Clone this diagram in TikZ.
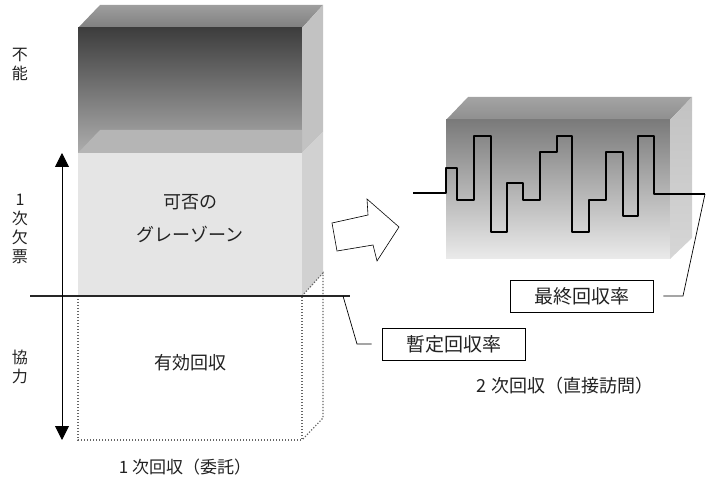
\documentclass[tikz,border=0pt]{standalone}
\usepackage{fontspec}
\newfontfamily\jp{Noto Sans CJK JP}
\usetikzlibrary{arrows.meta}
\definecolor{txt}{HTML}{222222}
\tikzset{
  lbl/.style={font=\jp\fontsize{18}{21}\selectfont, text=txt, inner sep=0pt},
  vlbl/.style={font=\jp\fontsize{16}{19}\selectfont, text=txt, align=center, inner sep=0pt},
  captext/.style={font=\jp\fontsize{17}{20}\selectfont, text=txt, inner sep=0pt},
  ratebox/.style={draw=black, line width=0.7pt, fill=white, minimum width=143pt, minimum height=32pt, font=\jp\fontsize{19}{22}\selectfont, text=txt},
  leader/.style={draw=black, line width=0.7pt},
  dotbox/.style={draw=black!60, line width=1.2pt, dash pattern=on 1.2pt off 1.8pt},
}
\begin{document}
\begin{tikzpicture}[x=1pt,y=-1pt]
\useasboundingbox (0,0) rectangle (707,478);
% ---------- left stacked block ----------
\shade[top color=black!38, bottom color=black!50] (78,28) -- (100,5) -- (323,5) -- (302,28) -- cycle;
\shade[top color=black!76, bottom color=black!32] (78,28) rectangle (302,153);
\fill[black!24] (302,28) -- (323,5) -- (323,132) -- (302,153) -- cycle;
\fill[black!29] (78,153) -- (100,130) -- (302,130) -- (302,153) -- cycle;
\fill[black!10] (78,153) rectangle (302,296);
\fill[black!18] (302,153) -- (323,132) -- (323,273) -- (302,296) -- cycle;
% dotted effective box
\draw[dotbox] (78,296) rectangle (302,440);
\draw[dotbox] (302,296) -- (323,273) -- (323,418) -- (302,440);
% horizontal threshold line
\coordinate (hl) at (30,296);
\coordinate (hr) at (350,296);
\draw[line width=1.8pt, black!85] (hl) -- (hr);
% vertical double arrow
\coordinate (atop) at (62,153);
\coordinate (abot) at (62,440);
\draw[line width=0.9pt, {Triangle[width=14pt,length=14pt]}-{Triangle[width=14pt,length=14pt]}] (atop) -- (abot);
% left labels
\node[vlbl] (funo) at (20,64) {不\\能};
\node[vlbl] (ketsu) at (20,229) {1\\次\\欠\\票};
\node[vlbl] (kyo) at (20,367) {協\\力};
% block texts
\node[lbl] (kahi) at (190,202) {可否の};
\node[lbl] (gray) at (190,234) {グレーゾーン};
\node[lbl] (yuko) at (190,363) {有効回収};
\node[captext] (cap1) at (185,467) {1 次回収（委託）};
% ---------- hollow arrow ----------
\draw[fill=white, line width=0.6pt, line join=miter] (332,223) -- (368,215) -- (367,199) -- (399,227) -- (377,261) -- (373,245) -- (337,251) -- cycle;
% ---------- right block ----------
\shade[top color=black!36, bottom color=black!44] (446,120) -- (468,97) -- (692,97) -- (670,120) -- cycle;
\shade[top color=black!52, bottom color=black!8] (446,120) rectangle (670,259);
\shade[top color=black!24, bottom color=black!16] (670,120) -- (692,97) -- (692,238) -- (670,259) -- cycle;
% waveform
\coordinate (wstart) at (413,193);
\coordinate (wend) at (705,194);
\draw[line width=2.6pt, line join=round, black] (wstart) -- (446,193) -- (446,168) -- (457,168) -- (457,200) -- (474,200) -- (474,136) -- (491,136) -- (491,232) -- (507,232) -- (507,183) -- (523,183) -- (523,200) -- (540,200) -- (540,152) -- (557,152) -- (557,136) -- (572,136) -- (572,232) -- (589,232) -- (589,200) -- (606,200) -- (606,152) -- (623,152) -- (623,216) -- (638,216) -- (638,136) -- (654,136) -- (654,194) -- (wend);
% rate boxes
\node[ratebox] (final) at (581.5,296) {最終回収率};
\node[ratebox] (tentative) at (453.5,344) {暫定回収率};
% leaders
\coordinate (lf1) at (683,296);
\coordinate (lf2) at ([xshift=10pt]final.east);
\draw[leader] (wend) -- (lf1) -- (lf2);
\coordinate (lt0) at (343,296);
\coordinate (lt1) at (357,344);
\coordinate (lt2) at ([xshift=-10pt]tentative.west);
\draw[leader] (lt0) -- (lt1) -- (lt2);
\node[captext, font=\jp\fontsize{18}{21}\selectfont] (cap2) at (565,386) {2 次回収（直接訪問）};
\end{tikzpicture}
\end{document}
